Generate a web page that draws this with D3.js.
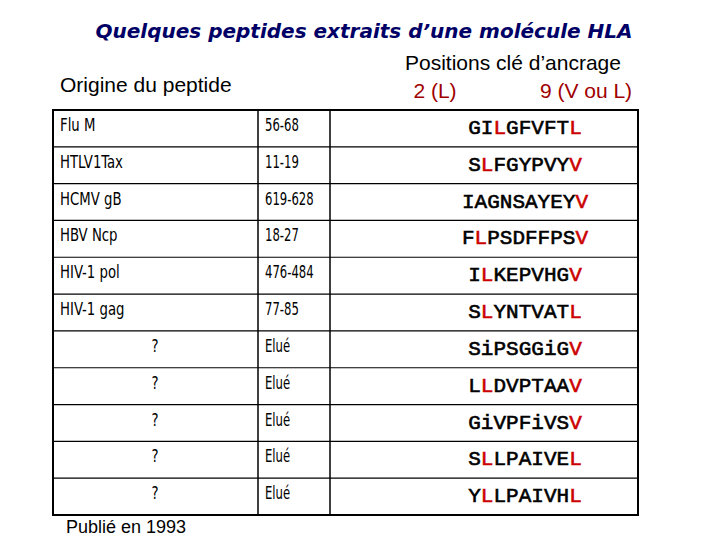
<!DOCTYPE html><html><head><meta charset="utf-8"><script src="https://cdn.jsdelivr.net/npm/d3@7"></script>
<style>body{margin:0;background:#fff}</style></head><body><svg id="c" width="720" height="540"></svg>
<script>
const origins=["Flu M","HTLV1Tax","HCMV gB","HBV Ncp","HIV-1 pol","HIV-1 gag","?","?","?","?","?"];
const positions=["56-68","11-19","619-628","18-27","476-484","77-85","Elué","Elué","Elué","Elué","Elué"];
const sequences=["GILGFVFTL","SLFGYPVYV","IAGNSAYEYV","FLPSDFFPSV","ILKEPVHGV","SLYNTVATL","SiPSGGiGV","LLDVPTAAV","GiVPFiVSV","SLLPAIVEL","YLLPAIVHL"];
const redIdx=[[2,8],[1,8],[9],[1,9],[1,8],[1,8],[8],[1,8],[8],[1,8],[1,8]];
const svg=d3.select("#c");
const L=53,R=638,C1=258,C2=330,T=110,B=515;
const y=d3.scaleBand().domain(d3.range(origins.length)).range([T,B]);
svg.append("text").attr("x",364).attr("y",38).attr("text-anchor","middle").attr("font-family","DejaVu Sans").attr("font-weight","bold").attr("font-style","italic").attr("font-size",20).attr("fill","#000066").text("Quelques peptides extraits d’une molécule HLA");
const hf="Liberation Sans";
svg.append("text").attr("x",60).attr("y",92).attr("font-family",hf).attr("font-size",21).text("Origine du peptide");
svg.append("text").attr("x",513).attr("y",70).attr("text-anchor","middle").attr("font-family",hf).attr("font-size",21).text("Positions clé d’ancrage");
svg.append("text").attr("x",435).attr("y",98).attr("text-anchor","middle").attr("font-family",hf).attr("font-size",21).attr("fill","#a00000").text("2 (L)");
svg.append("text").attr("x",586).attr("y",98).attr("text-anchor","middle").attr("font-family",hf).attr("font-size",21).attr("fill","#a00000").text("9 (V ou L)");
svg.append("rect").attr("x",L).attr("y",T).attr("width",R-L).attr("height",B-T).attr("fill","none").attr("stroke","#000").attr("stroke-width",2);
[C1,C2].forEach(x=>svg.append("line").attr("x1",x).attr("x2",x).attr("y1",T).attr("y2",B).attr("stroke","#000").attr("stroke-width",1.5));
d3.range(1,origins.length).forEach(i=>svg.append("line").attr("x1",L).attr("x2",R).attr("y1",y(i)).attr("y2",y(i)).attr("stroke","#000").attr("stroke-width",1.2));
const cf="DejaVu Sans Condensed";
origins.forEach((o,i)=>{
  const q=o==="?";
  svg.append("text").attr("transform",`translate(${q?155:60},${y(i)+21}) scale(0.82,1)`).attr("text-anchor",q?"middle":"start").attr("font-family",cf).attr("font-size",18).text(o);
  svg.append("text").attr("transform",`translate(265,${y(i)+21}) scale(0.72,1)`).attr("font-family",cf).attr("font-size",18).text(positions[i]);
  const t=svg.append("text").attr("x",525).attr("y",y(i)+24).attr("text-anchor","middle").attr("font-family","Liberation Mono").attr("font-size",21).attr("stroke-width",0.6);
  sequences[i].split("").forEach((ch,k)=>{const c=redIdx[i].includes(k)?"#cc0000":"#000";t.append("tspan").attr("fill",c).attr("stroke",c).text(ch);});
});
svg.append("text").attr("x",66).attr("y",533).attr("font-family",hf).attr("font-size",18).text("Publié en 1993");
</script></body></html>
